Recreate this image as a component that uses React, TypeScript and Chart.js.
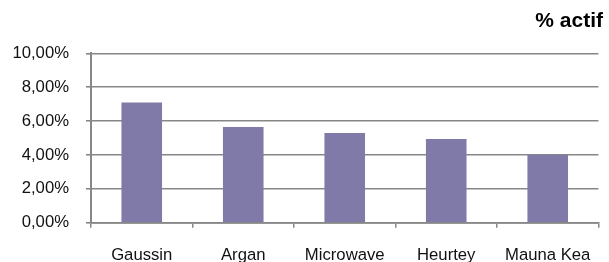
import React, { useEffect, useRef } from "react";
import { Chart, registerables } from "chart.js";

Chart.register(...registerables);

const categories = ["Gaussin", "Argan", "Microwave", "Heurtey", "Mauna Kea"];
const activeShare = [0.071, 0.0565, 0.053, 0.0494, 0.04];
const yTicks = [0, 0.02, 0.04, 0.06, 0.08, 0.1];
const titleText = "% actif";

const W = 609;
const H = 262;
const GRID = "#878787";
const FONT = "Arial, 'Liberation Sans', sans-serif";

export default function App() {
  const ref = useRef<HTMLCanvasElement | null>(null);

  useEffect(() => {
    if (!ref.current) return;
    const chart = new Chart(ref.current, {
      type: "bar",
      data: {
        labels: categories,
        datasets: [
          {
            label: titleText,
            data: activeShare,
            backgroundColor: "#807AA8",
            borderWidth: 0,
            barPercentage: 0.4,
            categoryPercentage: 1,
          },
        ],
      },
      options: {
        responsive: false,
        animation: false,
        devicePixelRatio: 1,
        layout: { padding: { left: 0, right: 6, top: 0, bottom: 0 } },
        plugins: {
          legend: { display: false },
          tooltip: { enabled: false },
          title: {
            display: true,
            text: titleText,
            align: "end",
            color: "#000",
            font: { family: FONT, size: 21, weight: "bold", lineHeight: 1.2 },
            padding: { top: 8.5, bottom: 19.6 },
          },
        },
        scales: {
          x: {
            grid: {
              display: true,
              drawOnChartArea: false,
              drawTicks: true,
              tickLength: 5,
              color: GRID,
              lineWidth: 1.5,
              offset: true,
            },
            border: { display: true, color: GRID, width: 1.8 },
            ticks: {
              color: "#111",
              font: { family: FONT, size: 16.7 },
              padding: 18,
              maxRotation: 0,
              autoSkip: false,
            },
            afterFit: (scale: any) => {
              scale.height = 39.3;
            },
          },
          y: {
            min: 0,
            max: 0.1,
            afterBuildTicks: (scale: any) => {
              scale.ticks = yTicks.map((v) => ({ value: v }));
            },
            grid: {
              color: GRID,
              lineWidth: 1.6,
              tickLength: 5,
              drawTicks: true,
            },
            border: { display: true, color: GRID, width: 2 },
            ticks: {
              color: "#111",
              font: { family: FONT, size: 16.7 },
              padding: 17,
              callback: (v: any) =>
                (Number(v) * 100).toFixed(2).replace(".", ",") + "%",
            },
            afterFit: (scale: any) => {
              scale.width = 91;
            },
          },
        },
      },
    });
    return () => chart.destroy();
  }, []);

  return (
    <div
      style={{
        position: "fixed",
        left: 0,
        top: 0,
        width: W,
        height: H,
        background: "#fff",
      }}
    >
      <canvas
        ref={ref}
        width={W}
        height={H}
        style={{ width: W + "px", height: H + "px", display: "block" }}
      />
    </div>
  );
}
